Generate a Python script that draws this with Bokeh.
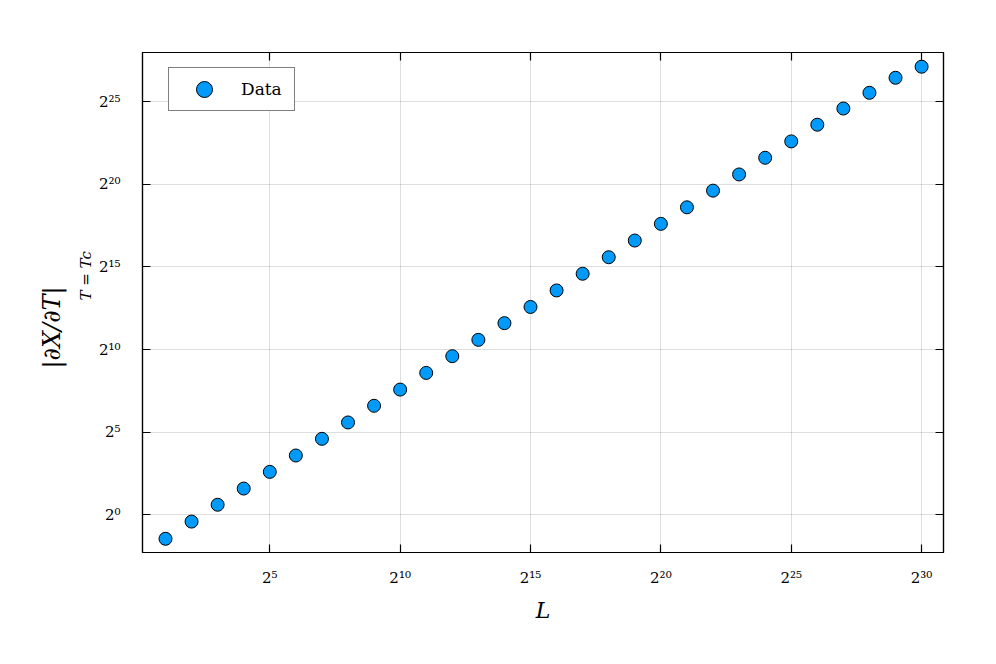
from bokeh.plotting import figure
from bokeh.models import (Range1d, LogAxis, FixedTicker, CustomJSTickFormatter,
                          Title, Legend, LegendItem)
from bokeh.embed import file_html
from bokeh.resources import INLINE

# System sizes L (powers of two, 2^1 ... 2^30)
L = [2, 4, 8, 16, 32, 64, 128, 256, 512, 1024,
     2048, 4096, 8192, 16384, 32768, 65536, 131072, 262144, 524288, 1048576,
     2097152, 4194304, 8388608, 16777216, 33554432, 67108864, 134217728,
     268435456, 536870912, 1073741824]

# |dX/dT| at T = Tc
dXdT = [0.366, 0.753, 1.526, 3.01, 6.06, 12.04, 24.25, 48.17, 97.0, 191.3,
        385.3, 776.0, 1541.0, 3104.0, 6123.0, 12245.0, 24661.0, 49322.0, 99333.0, 200055.0,
        400111.0, 805773.0, 1589327.0, 3200884.0, 6357306.0, 12803530.0, 25253066.0,
        48788144.0, 91670708.0, 145854405.0]

x_ticks = [32, 1024, 32768, 1048576, 33554432, 1073741824]
y_ticks = [1, 32, 1024, 32768, 1048576, 33554432]

series_label = "Data"
x_label = "L"
y_label_main = "|∂X/∂T|"
y_label_sub = "T = Tc"

SERIF = "DejaVu Serif"

p = figure(x_axis_type="log", y_axis_type="log",
           frame_width=801, frame_height=500,
           x_range=Range1d(2 ** 0.118, 2 ** 30.84),
           y_range=Range1d(2 ** -2.28, 2 ** 27.98),
           output_backend="svg", toolbar_location=None,
           min_border_left=142, min_border_right=53,
           min_border_top=52, min_border_bottom=112)

p.background_fill_color = "white"
p.border_fill_color = "white"
p.outline_line_color = "black"
p.outline_line_width = 1.2

fmt_code = """
const sup = {"0":"\u2070","1":"\u00b9","2":"\u00b2","3":"\u00b3","4":"\u2074",
             "5":"\u2075","6":"\u2076","7":"\u2077","8":"\u2078","9":"\u2079","-":"\u207b"};
const e = Math.round(Math.log2(tick));
return "2" + String(e).split("").map(c => sup[c]).join("");
"""

xt = FixedTicker(ticks=x_ticks)
yt = FixedTicker(ticks=y_ticks)

for ax, tk in ((p.xaxis[0], xt), (p.yaxis[0], yt)):
    ax.ticker = tk
    ax.formatter = CustomJSTickFormatter(code=fmt_code)
    ax.major_tick_in = 8
    ax.major_tick_out = 0
    ax.minor_tick_line_color = None
    ax.axis_line_color = "black"
    ax.axis_line_width = 1.2
    ax.major_tick_line_color = "black"
    ax.major_tick_line_width = 1.2
    ax.major_label_text_font = SERIF
    ax.major_label_text_font_size = "15px"
    ax.major_label_text_color = "black"

p.xaxis[0].major_label_standoff = 16
p.yaxis[0].major_label_standoff = 22

p.xaxis[0].axis_label = x_label
p.xaxis[0].axis_label_text_font = SERIF
p.xaxis[0].axis_label_text_font_style = "italic"
p.xaxis[0].axis_label_text_font_size = "22px"
p.xaxis[0].axis_label_text_color = "black"
p.xaxis[0].axis_label_standoff = 8

# mirrored axes (ticks only)
for tk, side in ((xt, "above"), (yt, "right")):
    ax = LogAxis(ticker=tk, formatter=CustomJSTickFormatter(code="return ''"))
    ax.major_tick_in = 8
    ax.major_tick_out = 0
    ax.minor_tick_line_color = None
    ax.axis_line_color = "black"
    ax.axis_line_width = 1.2
    ax.major_tick_line_color = "black"
    ax.major_tick_line_width = 1.2
    ax.major_label_text_font_size = "1px"
    p.add_layout(ax, side)

p.xgrid.ticker = xt
p.ygrid.ticker = yt
for g in (p.xgrid[0], p.ygrid[0]):
    g.grid_line_color = "black"
    g.grid_line_alpha = 0.13
    g.grid_line_width = 1

# y label: main part and subscript, as titles in the left panel
sub = Title(text=y_label_sub, text_font=SERIF, text_font_size="15px",
            text_font_style="italic", align="left", offset=252,
            standoff=2, text_color="black")
main = Title(text=y_label_main, text_font=SERIF, text_font_size="24px",
             text_font_style="italic", align="left", offset=184,
             standoff=16, text_color="black")
p.add_layout(sub, "left")
p.add_layout(main, "left")

r = p.scatter(L, dXdT, marker="circle", size=13,
              fill_color="#009AFA", line_color="black", line_width=1)

legend = Legend(items=[LegendItem(label=series_label, renderers=[r])],
                location=(26, 441), orientation="vertical",
                border_line_color="black", border_line_width=1.2,
                background_fill_color="white", background_fill_alpha=1,
                padding=1, margin=0, spacing=0,
                glyph_width=68, glyph_height=40, label_standoff=3,
                label_width=52,
                label_text_font=SERIF, label_text_font_size="17px",
                label_text_color="black")
p.add_layout(legend)

open("out.html", "w").write(file_html(p, INLINE))
